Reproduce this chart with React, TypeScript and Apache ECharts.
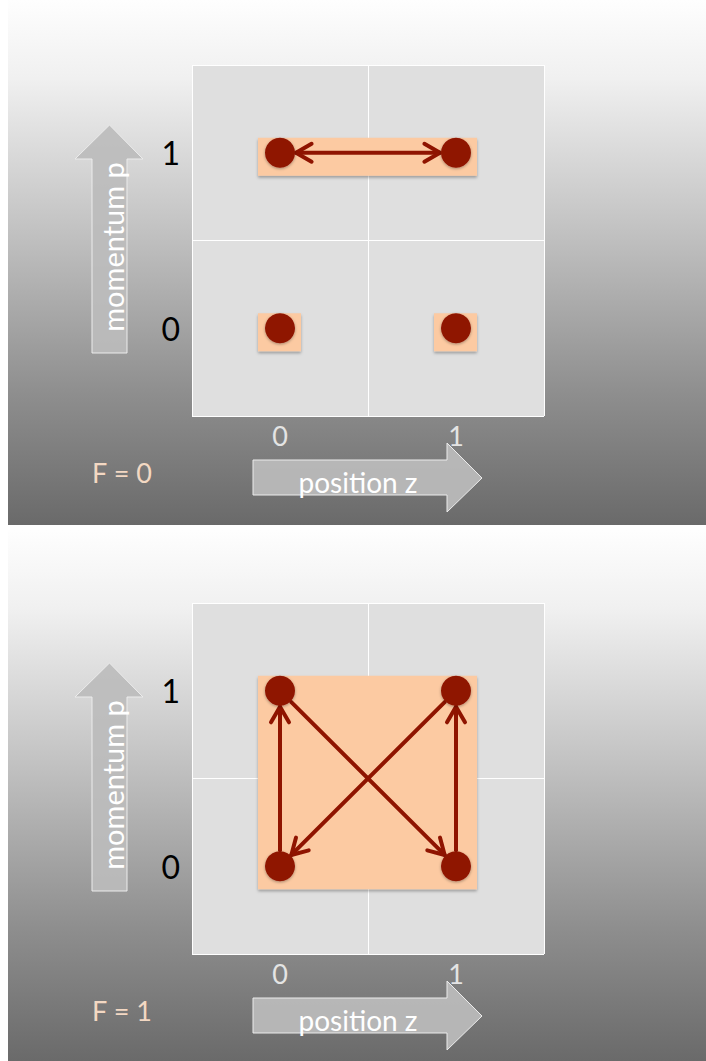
import React, { useEffect, useRef } from "react";
import * as echarts from "echarts";

// ---- data ----
const xCategories = ["0", "1"];
const yCategories = ["0", "1"];
const panelTitles = ["F = 0", "F = 1"];
const xAxisName = "position z";
const yAxisName = "momentum p";
// states (position index, momentum index)
const panel1States = [[0, 1], [1, 1], [0, 0], [1, 0]];
const panel2States = [[0, 1], [1, 1], [0, 0], [1, 0]];
// highlighted boxes: [x0, y0, x1, y1]
const panel1Boxes = [[0, 1, 1, 1], [0, 0, 0, 0], [1, 0, 1, 0]];
const panel2Boxes = [[0, 0, 1, 1]];
// transitions: [x0, y0, x1, y1, headAtStart, headAtEnd]
const panel1Arrows = [[0, 1, 1, 1, 1, 1]];
const panel2Arrows = [
  [0, 0, 0, 1, 0, 1],
  [1, 0, 1, 1, 0, 1],
  [0, 1, 1, 0, 0, 1],
  [1, 1, 0, 0, 0, 1],
];

// ---- style ----
const FONT = "Lato, 'Open Sans', sans-serif";
const DOT = "#8f1400";
const BOX = "#fccaa2";
const PANEL_OFFSET = 538;

function bgGradient() {
  return new echarts.graphic.LinearGradient(0, 0, 0, 1, [
    { offset: 0, color: "#fefefe" },
    { offset: 0.15, color: "#f0f0f0" },
    { offset: 0.45, color: "#c0c0c0" },
    { offset: 0.75, color: "#8e8e8e" },
    { offset: 1, color: "#6a6a6a" },
  ]);
}

function panelGraphics(dy: number, title: string) {
  const upArrow = [
    [101.5, 125], [135, 159], [119, 159], [119, 353], [84, 353], [84, 159], [67, 159],
  ].map(([x, y]) => [x, y + dy]);
  const rightArrow = [
    [245, 460], [439, 460], [439, 443], [474, 478], [439, 512], [439, 495], [245, 495],
  ].map(([x, y]) => [x, y + dy]);
  return [
    {
      type: "polygon",
      z: 5,
      shape: { points: upArrow },
      style: { fill: "rgba(188,188,188,0.92)", stroke: "#ececec", lineWidth: 1 },
    },
    {
      type: "text",
      z: 6,
      x: 104,
      y: 247 + dy,
      rotation: Math.PI / 2,
      style: {
        text: yAxisName,
        fill: "#ffffff",
        fontSize: 29,
        fontFamily: FONT,
        align: "center",
        verticalAlign: "middle",
      },
    },
    {
      type: "polygon",
      z: 5,
      shape: { points: rightArrow },
      style: { fill: "rgba(188,188,188,0.92)", stroke: "#ececec", lineWidth: 1 },
    },
    {
      type: "text",
      z: 6,
      x: 350,
      y: 482 + dy,
      style: {
        text: xAxisName,
        fill: "#ffffff",
        fontSize: 28,
        fontFamily: FONT,
        align: "center",
        verticalAlign: "middle",
      },
    },
    {
      type: "text",
      z: 6,
      x: 114,
      y: 472 + dy,
      style: {
        text: title,
        fill: "#f3d8c3",
        fontSize: 27,
        fontFamily: FONT,
        align: "center",
        verticalAlign: "middle",
      },
    },
  ];
}

const PAD = { l: 22, r: 21, t: 15, b: 23 };

function boxSeries(data: number[][], idx: number) {
  return {
    type: "custom",
    xAxisIndex: idx,
    yAxisIndex: idx,
    z: 2,
    encode: { x: [0, 2], y: [1, 3] },
    data,
    renderItem: (params: any, api: any) => {
      const p0 = api.coord([api.value(0), api.value(1)]);
      const p1 = api.coord([api.value(2), api.value(3)]);
      const x0 = Math.min(p0[0], p1[0]) - PAD.l;
      const x1 = Math.max(p0[0], p1[0]) + PAD.r;
      const y0 = Math.min(p0[1], p1[1]) - PAD.t;
      const y1 = Math.max(p0[1], p1[1]) + PAD.b;
      return {
        type: "rect",
        shape: { x: x0, y: y0, width: x1 - x0, height: y1 - y0 },
        style: {
          fill: BOX,
          shadowBlur: 3,
          shadowColor: "rgba(0,0,0,0.3)",
          shadowOffsetY: 2,
        },
      };
    },
  };
}

function arrowSeries(data: number[][], idx: number) {
  const R = 16;
  const L = 18;
  const ang = (30 * Math.PI) / 180;
  return {
    type: "custom",
    xAxisIndex: idx,
    yAxisIndex: idx,
    z: 3,
    encode: { x: [0, 2], y: [1, 3] },
    data,
    renderItem: (params: any, api: any) => {
      const a = api.coord([api.value(0), api.value(1)]);
      const b = api.coord([api.value(2), api.value(3)]);
      const dx = b[0] - a[0];
      const dy = b[1] - a[1];
      const len = Math.sqrt(dx * dx + dy * dy);
      const ux = dx / len;
      const uy = dy / len;
      const s = [a[0] + ux * R, a[1] + uy * R];
      const e = [b[0] - ux * R, b[1] - uy * R];
      const style = {
        stroke: DOT,
        lineWidth: 4,
        fill: "none",
        lineCap: "round",
        lineJoin: "round",
      };
      const head = (tip: number[], vx: number, vy: number) => {
        const c = Math.cos(ang);
        const sn = Math.sin(ang);
        const p1 = [tip[0] + L * (vx * c - vy * sn), tip[1] + L * (vx * sn + vy * c)];
        const p2 = [tip[0] + L * (vx * c + vy * sn), tip[1] + L * (-vx * sn + vy * c)];
        return { type: "polyline", shape: { points: [p1, tip, p2] }, style };
      };
      const children: any[] = [
        { type: "line", shape: { x1: s[0], y1: s[1], x2: e[0], y2: e[1] }, style },
      ];
      if (api.value(4)) children.push(head(s, ux, uy));
      if (api.value(5)) children.push(head(e, -ux, -uy));
      return { type: "group", children };
    },
  };
}

function dotSeries(data: number[][], idx: number) {
  return {
    type: "scatter",
    xAxisIndex: idx,
    yAxisIndex: idx,
    z: 4,
    symbol: "circle",
    symbolSize: 30,
    itemStyle: {
      color: DOT,
      opacity: 1,
      shadowBlur: 3,
      shadowColor: "rgba(0,0,0,0.35)",
      shadowOffsetY: 1,
    },
    data,
  };
}

function xAxis(idx: number) {
  return {
    type: "category",
    gridIndex: idx,
    data: xCategories,
    boundaryGap: true,
    axisLine: { show: false },
    axisTick: { show: false },
    splitLine: { show: true, lineStyle: { color: "#ffffff", width: 1 } },
    axisLabel: { color: "#e4e4e4", fontSize: 27, fontFamily: FONT, margin: 6 },
  };
}

function yAxis(idx: number) {
  return {
    type: "category",
    gridIndex: idx,
    data: yCategories,
    boundaryGap: true,
    axisLine: { show: false },
    axisTick: { show: false },
    splitLine: { show: true, lineStyle: { color: "#ffffff", width: 1 } },
    axisLabel: { color: "#000000", fontSize: 32, fontFamily: FONT, margin: 12 },
  };
}

export default function App() {
  const ref = useRef<HTMLDivElement>(null);
  useEffect(() => {
    if (!ref.current) return;
    const chart = echarts.init(ref.current, null, { renderer: "svg" });
    const gridBase = { left: 184, width: 352, height: 351, show: true, backgroundColor: "#dfdfdf", borderWidth: 0 };
    chart.setOption({
      animation: false,
      backgroundColor: "#ffffff",
      grid: [
        { ...gridBase, top: 65 },
        { ...gridBase, top: 65 + PANEL_OFFSET },
      ],
      xAxis: [xAxis(0), xAxis(1)],
      yAxis: [yAxis(0), yAxis(1)],
      graphic: [
        {
          type: "rect",
          z: -10,
          shape: { x: 0, y: 0, width: 698, height: 525 },
          style: { fill: bgGradient() },
        },
        {
          type: "rect",
          z: -10,
          shape: { x: 0, y: 530, width: 698, height: 531 },
          style: { fill: bgGradient() },
        },
        ...panelGraphics(0, panelTitles[0]),
        ...panelGraphics(PANEL_OFFSET, panelTitles[1]),
      ],
      series: [
        boxSeries(panel1Boxes, 0),
        arrowSeries(panel1Arrows, 0),
        dotSeries(panel1States, 0),
        boxSeries(panel2Boxes, 1),
        arrowSeries(panel2Arrows, 1),
        dotSeries(panel2States, 1),
      ],
    });
    return () => chart.dispose();
  }, []);
  return (
    <div
      ref={ref}
      style={{ position: "absolute", left: 8, top: 0, width: 698, height: 1061 }}
    />
  );
}
